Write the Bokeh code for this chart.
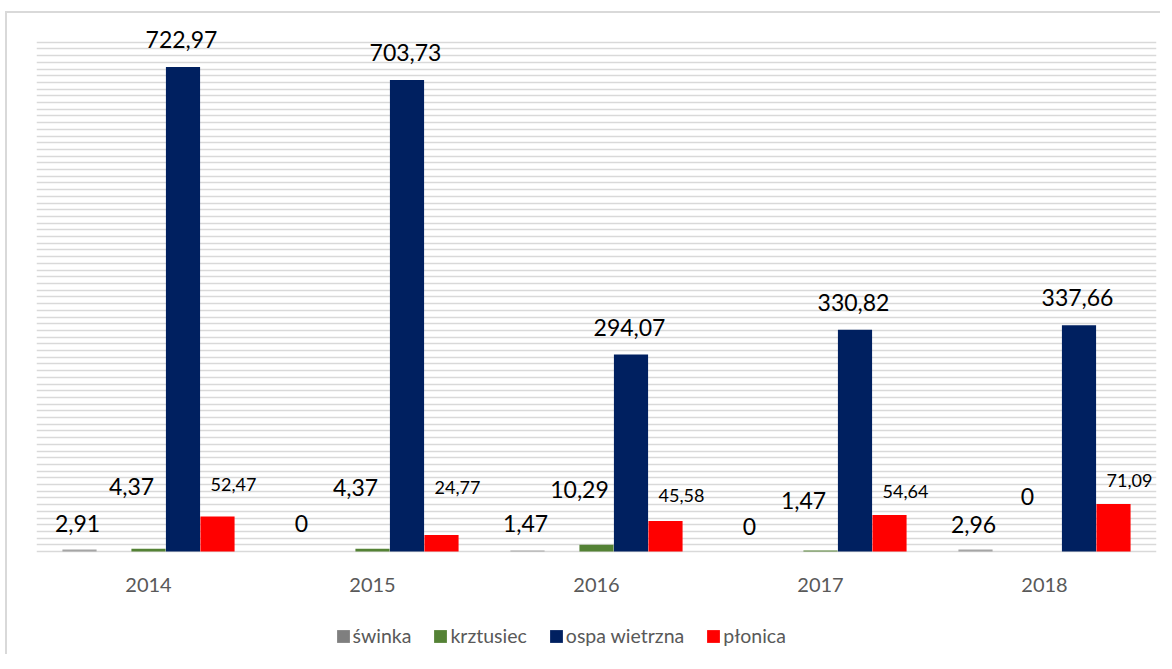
from bokeh.plotting import figure
from bokeh.models import ColumnDataSource, FactorRange, FixedTicker, Legend, LegendItem, Range1d
from bokeh.transform import dodge
from bokeh.core.properties import value
from bokeh.embed import file_html
from bokeh.resources import INLINE

years = ["2014", "2015", "2016", "2017", "2018"]
swinka = [2.91, 0, 1.47, 0, 2.96]
krztusiec = [4.37, 4.37, 10.29, 1.47, 0]
ospa = [722.97, 703.73, 294.07, 330.82, 337.66]
plonica = [52.47, 24.77, 45.58, 54.64, 71.09]

swinka_lbl = ["2,91", "0", "1,47", "0", "2,96"]
krztusiec_lbl = ["4,37", "4,37", "10,29", "1,47", "0"]
ospa_lbl = ["722,97", "703,73", "294,07", "330,82", "337,66"]
plonica_lbl = ["52,47", "24,77", "45,58", "54,64", "71,09"]

# label vertical anchor (data units), as placed in the original chart
swinka_ly = [42, 42, 42, 37, 40]
krztusiec_ly = [97, 96, 93, 76, 82]
ospa_ly = [v + 41 for v in ospa]
plonica_ly = [100, 96, 84, 90, 106]

colors = {"swinka": "#7F7F7F", "krztusiec": "#548235", "ospa": "#002060", "plonica": "#FF0000"}

src = ColumnDataSource(dict(
    years=years, swinka=swinka, krztusiec=krztusiec, ospa=ospa, plonica=plonica,
    swinka_lbl=swinka_lbl, krztusiec_lbl=krztusiec_lbl, ospa_lbl=ospa_lbl, plonica_lbl=plonica_lbl,
    swinka_ly=swinka_ly, krztusiec_ly=krztusiec_ly, ospa_ly=ospa_ly, plonica_ly=plonica_ly,
))

p = figure(x_range=FactorRange(*years, range_padding=0, factor_padding=0),
           y_range=Range1d(-155.1, 785),
           width=1155, height=643, output_backend="svg", toolbar_location=None,
           min_border_left=29, min_border_right=6, min_border_top=12, min_border_bottom=1)
p.styles = {"border-top": "2px solid #D9D9D9", "border-left": "2px solid #D9D9D9",
            "margin-left": "5px", "margin-top": "11px"}
p.outline_line_color = None
p.background_fill_color = "white"

slot = 34.5 / 224.0
bw = slot * 0.99

r_sw = p.vbar(x=dodge("years", -2 * slot, range=p.x_range), top="swinka", width=bw, source=src,
              color="#A5A5A5", line_color=None)
r_kr = p.vbar(x=dodge("years", 0, range=p.x_range), top="krztusiec", width=bw, source=src,
              color=colors["krztusiec"], line_color=None)
r_os = p.vbar(x=dodge("years", slot, range=p.x_range), top="ospa", width=bw, source=src,
              color=colors["ospa"], line_color=None)
r_pl = p.vbar(x=dodge("years", 2 * slot, range=p.x_range), top="plonica", width=bw, source=src,
              color=colors["plonica"], line_color=None)
# legend swatch for 'świnka' in its legend colour (zero-height, draws nothing in the plot)
r_sw_leg = p.vbar(x=[years[0]], top=[0], bottom=[0], width=0.0001,
                  fill_color=colors["swinka"], line_color=None)

font = value("Lato")
p.text(x=dodge("years", -71 / 224, range=p.x_range), y="swinka_ly", text="swinka_lbl", source=src,
       text_font=font, text_font_size="23px", text_align="center", text_baseline="middle", text_color="black")
p.text(x=dodge("years", -17 / 224, range=p.x_range), y="krztusiec_ly", text="krztusiec_lbl", source=src,
       text_font=font, text_font_size="23px", text_align="center", text_baseline="middle", text_color="black")
p.text(x=dodge("years", 33 / 224, range=p.x_range), y="ospa_ly", text="ospa_lbl", source=src,
       text_font=font, text_font_size="23px", text_align="center", text_baseline="middle", text_color="black")
p.text(x=dodge("years", 85 / 224, range=p.x_range), y="plonica_ly", text="plonica_lbl", source=src,
       text_font=font, text_font_size="18px", text_align="center", text_baseline="middle", text_color="black")

# grid
p.xgrid.grid_line_color = None
p.ygrid.ticker = FixedTicker(ticks=list(range(0, 761, 10)))
p.ygrid.grid_line_color = "#D9D9D9"
p.ygrid.grid_line_width = 1.6
p.ygrid.level = "underlay"

p.yaxis.visible = False
p.xaxis.fixed_location = 0
p.xaxis.axis_line_color = None
p.xaxis.major_tick_line_color = None
p.xaxis.minor_tick_line_color = None
p.xaxis.major_label_text_font = "Lato"
p.xaxis.major_label_text_font_size = "20px"
p.xaxis.major_label_text_color = "#595959"
p.xaxis.major_label_standoff = 20

legend = Legend(items=[
    LegendItem(label="świnka", renderers=[r_sw_leg]),
    LegendItem(label="krztusiec", renderers=[r_kr]),
    LegendItem(label="ospa wietrzna", renderers=[r_os]),
    LegendItem(label="płonica", renderers=[r_pl]),
], orientation="horizontal", location=(298.5, 8), padding=0, margin=0, spacing=21,
    glyph_width=16, glyph_height=16, label_standoff=2,
    label_text_font="Lato", label_text_font_size="19.5px", label_text_color="#595959",
    border_line_color=None, background_fill_alpha=0)
p.add_layout(legend, "center")

open("out.html", "w").write(file_html(p, INLINE))
